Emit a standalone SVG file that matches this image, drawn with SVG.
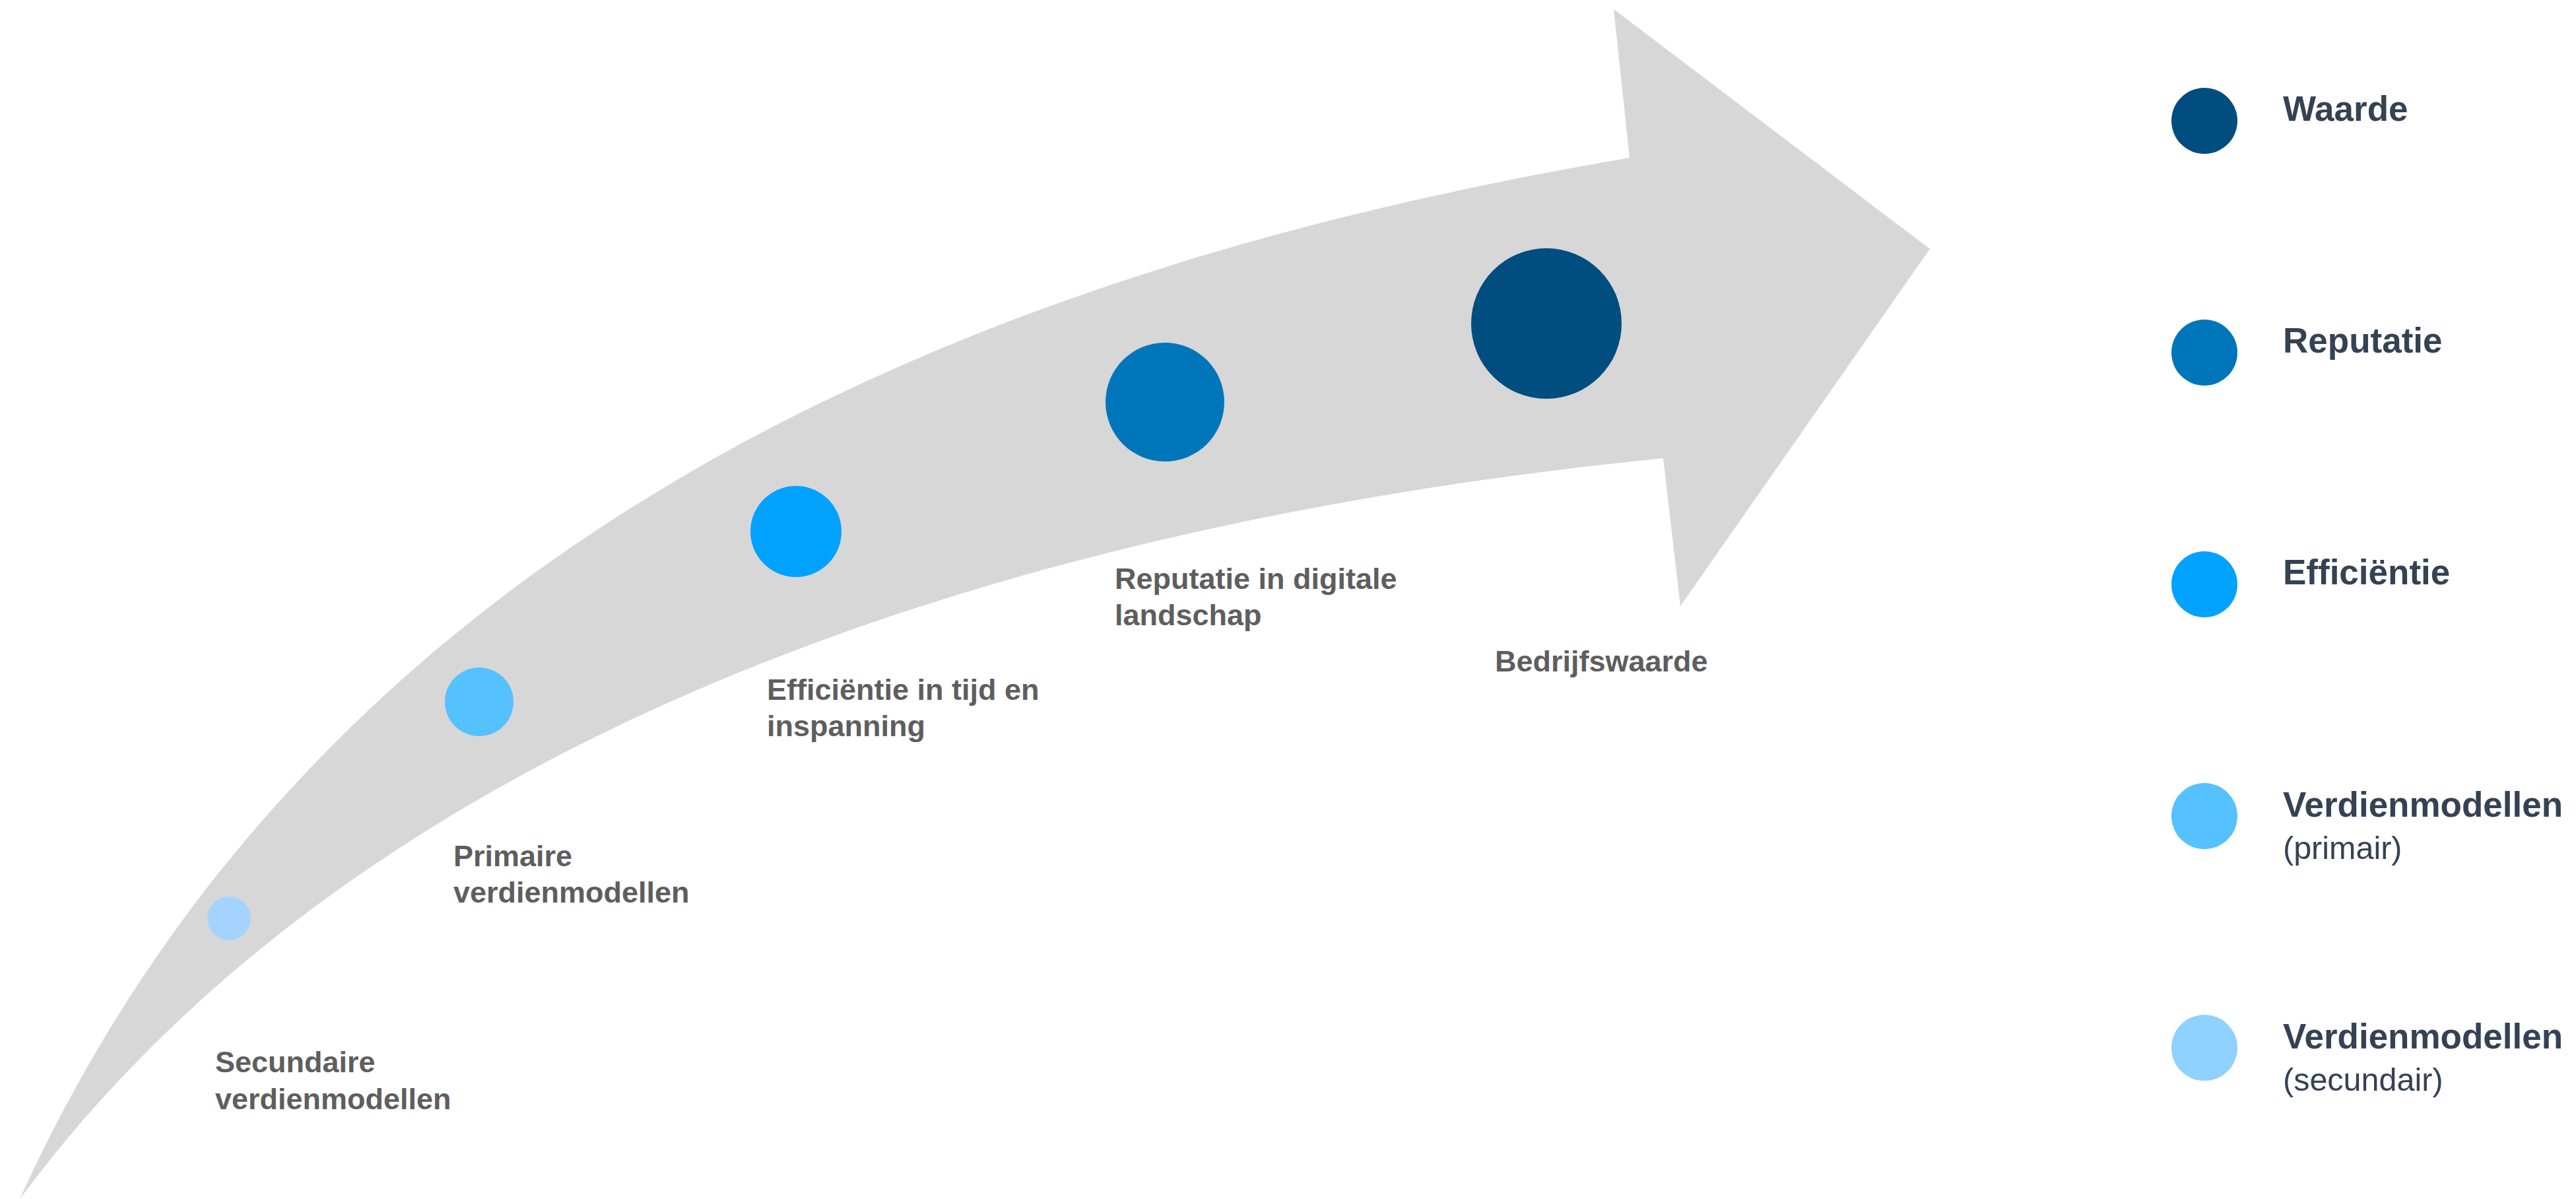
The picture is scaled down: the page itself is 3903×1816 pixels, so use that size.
<svg xmlns="http://www.w3.org/2000/svg" width="3903" height="1816" viewBox="0 0 3903 1816">
<style>
.lbl{font-family:"Liberation Sans",Arial,Helvetica,sans-serif;font-weight:bold;font-size:45px;fill:#5E5E5E}
.lg{font-family:"Liberation Sans",Arial,Helvetica,sans-serif;font-weight:bold;font-size:53px;fill:#354254}
.lgs{font-family:"Liberation Sans",Arial,Helvetica,sans-serif;font-weight:normal;font-size:48.5px;fill:#354254}
.c1{fill:#004D80}.c2{fill:#0076BA}.c3{fill:#00A2FF}.c4{fill:#56C1FF}.c5{fill:#A5D3FF}.c5l{fill:#8FD1FF}
</style>
<rect width="3903" height="1816" fill="#FFFFFF"/>
<g id="arrow">
<path fill="#D7D7D7" d="M30,1816 C510,760 1569,392 2469,239 L2445,14 L2924,377 L2546,918 L2520,694 C1500,796 545,1120.75 30,1816 Z"/>
</g>
<g id="connectors"></g>
<g id="node-secundair">
<circle class="c5" cx="347" cy="1391" r="33"/>
<text class="lbl" x="326" y="1624">Secundaire</text>
<text class="lbl" x="326" y="1680">verdienmodellen</text>
</g>
<g id="node-primair">
<circle class="c4" cx="726" cy="1063" r="52"/>
<text class="lbl" x="687" y="1312">Primaire</text>
<text class="lbl" x="687" y="1367">verdienmodellen</text>
</g>
<g id="node-efficientie">
<circle class="c3" cx="1206" cy="805" r="69"/>
<text class="lbl" x="1162" y="1060">Efficiëntie in tijd en</text>
<text class="lbl" x="1162" y="1115">inspanning</text>
</g>
<g id="node-reputatie">
<circle class="c2" cx="1765" cy="609" r="90"/>
<text class="lbl" x="1689" y="892">Reputatie in digitale</text>
<text class="lbl" x="1689" y="947">landschap</text>
</g>
<g id="node-waarde">
<circle class="c1" cx="2343" cy="490" r="114"/>
<text class="lbl" x="2265" y="1017">Bedrijfswaarde</text>
</g>
<g id="legend-waarde">
<circle class="c1" cx="3340" cy="183" r="50"/>
<text class="lg" x="3459" y="183">Waarde</text>
</g>
<g id="legend-reputatie">
<circle class="c2" cx="3340" cy="534" r="50"/>
<text class="lg" x="3459" y="534">Reputatie</text>
</g>
<g id="legend-efficientie">
<circle class="c3" cx="3340" cy="885" r="50"/>
<text class="lg" x="3459" y="885">Efficiëntie</text>
</g>
<g id="legend-primair">
<circle class="c4" cx="3340" cy="1236" r="50"/>
<text class="lg" x="3459" y="1237">Verdienmodellen</text>
<text class="lgs" x="3459" y="1301">(primair)</text>
</g>
<g id="legend-secundair">
<circle class="c5l" cx="3340" cy="1587" r="50"/>
<text class="lg" x="3459" y="1588">Verdienmodellen</text>
<text class="lgs" x="3459" y="1652">(secundair)</text>
</g>
</svg>
